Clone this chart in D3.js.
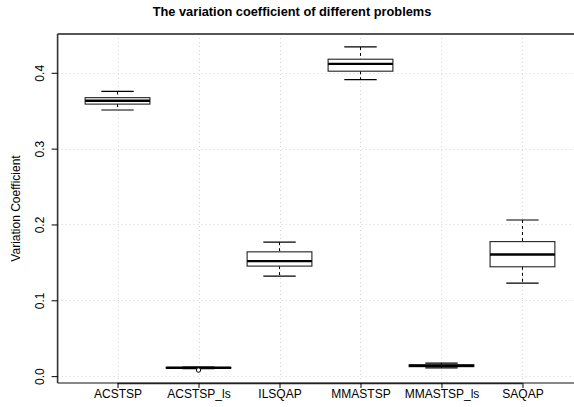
<!DOCTYPE html>
<html>
<head>
<meta charset="utf-8">
<script src="https://cdn.jsdelivr.net/npm/d3@7"></script>
<style>
  html, body { margin: 0; padding: 0; background: #fff; }
  svg { display: block; font-family: "Liberation Sans", Arial, Helvetica, sans-serif; }
</style>
</head>
<body>
<svg id="chart" width="574" height="407"></svg>
<script>
// ---- data ----
const categories = ["ACSTSP", "ACSTSP_ls", "ILSQAP", "MMASTSP", "MMASTSP_ls", "SAQAP"];
const whiskerLow  = [0.3509, 0.0100, 0.1319, 0.3909, 0.0108, 0.1227];
const q1          = [0.3587, 0.0106, 0.1451, 0.4021, 0.0125, 0.1442];
const medians     = [0.3632, 0.0110, 0.1516, 0.4118, 0.0138, 0.1603];
const q3          = [0.3672, 0.0114, 0.1639, 0.4179, 0.0150, 0.1774];
const whiskerHigh = [0.3754, 0.0120, 0.1766, 0.4341, 0.0172, 0.2059];
const outlierCategory = ["ACSTSP_ls"];
const outlierValue    = [0.0080];
const yTicks = [0.0, 0.1, 0.2, 0.3, 0.4];
const yTickLabels = ["0.0", "0.1", "0.2", "0.3", "0.4"];
const title = "The variation coefficient of different problems";
const yTitle = "Variation Coefficient";

// ---- layout ----
const svg = d3.select("#chart");
const plotLeft = 57.6, plotRight = 582.4, plotTop = 34, plotBottom = 383;

const x = d3.scalePoint().domain(categories).range([plotLeft, plotRight]).padding(0.74);
const step = x.step();
const boxW = step * 0.8, capW = step * 0.4;

const allVals = whiskerLow.concat(whiskerHigh, outlierValue);
const dMin = d3.min(allVals), dMax = d3.max(allVals);
const ext = (dMax - dMin) * 0.04;
const y = d3.scaleLinear().domain([dMin - ext, dMax + ext]).range([plotBottom, plotTop]);

// grid
const grid = svg.append("g");
yTicks.forEach(t => {
  grid.append("line").attr("x1", plotLeft).attr("x2", plotRight)
    .attr("y1", Math.round(y(t)) + 0.5).attr("y2", Math.round(y(t)) + 0.5)
    .attr("stroke", "#d3d3d3").attr("stroke-dasharray", "1,3");
});
categories.forEach(c => {
  grid.append("line").attr("y1", plotTop).attr("y2", plotBottom)
    .attr("x1", Math.round(x(c)) + 0.5).attr("x2", Math.round(x(c)) + 0.5)
    .attr("stroke", "#d3d3d3").attr("stroke-dasharray", "1,3");
});

// boxes
const boxes = svg.append("g");
categories.forEach((c, i) => {
  const cx = x(c);
  const g = boxes.append("g");
  g.append("line").attr("x1", cx).attr("x2", cx).attr("y1", y(whiskerHigh[i])).attr("y2", y(q3[i]))
    .attr("stroke", "#000").attr("stroke-dasharray", "3,3");
  g.append("line").attr("x1", cx).attr("x2", cx).attr("y1", y(q1[i])).attr("y2", y(whiskerLow[i]))
    .attr("stroke", "#000").attr("stroke-dasharray", "3,3");
  [whiskerHigh[i], whiskerLow[i]].forEach(v => {
    g.append("line").attr("x1", cx - capW / 2).attr("x2", cx + capW / 2)
      .attr("y1", y(v)).attr("y2", y(v)).attr("stroke", "#000").attr("stroke-width", 1.2);
  });
  g.append("rect").attr("x", cx - boxW / 2).attr("width", boxW)
    .attr("y", y(q3[i])).attr("height", Math.max(0.5, y(q1[i]) - y(q3[i])))
    .attr("fill", "#fff").attr("stroke", "#222").attr("stroke-width", 1.1);
  g.append("line").attr("x1", cx - boxW / 2).attr("x2", cx + boxW / 2)
    .attr("y1", y(medians[i])).attr("y2", y(medians[i]))
    .attr("stroke", "#000").attr("stroke-width", 2.4);
});

// outliers
outlierCategory.forEach((c, i) => {
  boxes.append("circle").attr("cx", x(c)).attr("cy", y(outlierValue[i])).attr("r", 2.2)
    .attr("fill", "#fff").attr("stroke", "#000").attr("stroke-width", 1);
});

// frame
const frame = svg.append("g");
frame.append("line").attr("x1", plotLeft).attr("x2", plotRight).attr("y1", plotTop).attr("y2", plotTop)
  .attr("stroke", "#555").attr("stroke-width", 1.8);
frame.append("line").attr("x1", plotLeft).attr("x2", plotRight).attr("y1", plotBottom).attr("y2", plotBottom)
  .attr("stroke", "#888").attr("stroke-width", 1.8);
frame.append("line").attr("x1", plotLeft).attr("x2", plotLeft).attr("y1", plotTop).attr("y2", plotBottom)
  .attr("stroke", "#333").attr("stroke-width", 1.6);

// x axis
const xAxis = d3.axisBottom(x).tickSize(5).tickPadding(1.5);
const xg = svg.append("g").attr("transform", `translate(0,${plotBottom})`).call(xAxis);
xg.select(".domain").attr("d", `M${x(categories[0])},0.5H${x(categories[categories.length - 1])}`)
  .attr("stroke", "#222").attr("stroke-width", 1.3);
xg.selectAll(".tick line").attr("stroke", "#000");
xg.selectAll(".tick text").attr("font-size", 12).attr("fill", "#000")
  .attr("font-family", "Liberation Sans, Arial, sans-serif").attr("dy", "0.72em");

// y axis
const yAxis = d3.axisLeft(y).tickValues(yTicks).tickFormat((d, i) => yTickLabels[i]).tickSize(6).tickPadding(0);
const yg = svg.append("g").attr("transform", `translate(${plotLeft},0)`).call(yAxis);
yg.select(".domain").remove();
yg.selectAll(".tick line").attr("stroke", "#000");
yg.selectAll(".tick text")
  .attr("x", 0).attr("dy", 0)
  .attr("transform", "translate(-13.6,0) rotate(-90)")
  .attr("text-anchor", "middle")
  .attr("font-size", 12).attr("fill", "#000")
  .attr("font-family", "Liberation Sans, Arial, sans-serif");

// titles
svg.append("text").attr("x", 292).attr("y", 16).attr("text-anchor", "middle")
  .attr("font-size", 12.8).attr("font-weight", "bold").text(title);
svg.append("text").attr("transform", `translate(20,${(plotTop + plotBottom) / 2}) rotate(-90)`)
  .attr("text-anchor", "middle").attr("font-size", 12).text(yTitle);
</script>
</body>
</html>
